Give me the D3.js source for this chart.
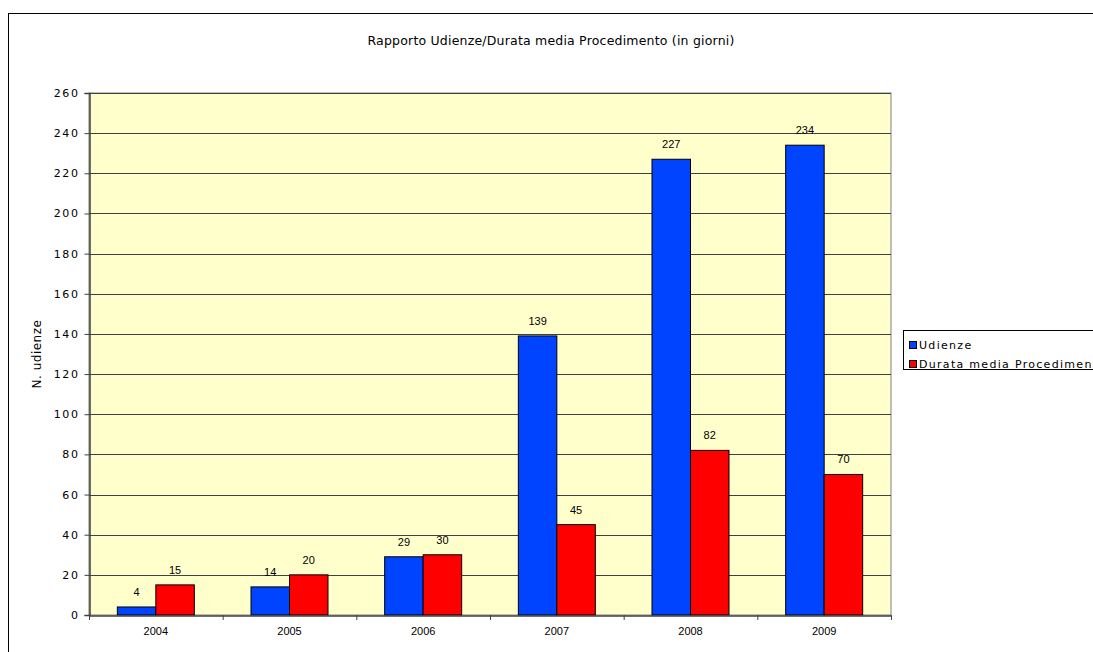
<!DOCTYPE html>
<html>
<head>
<meta charset="utf-8">
<script src="https://cdn.jsdelivr.net/npm/d3@7/dist/d3.min.js"></script>
<style>
  html, body { margin: 0; padding: 0; background: #fff; }
  svg { display: block; }
</style>
</head>
<body>
<svg id="chart" width="1093" height="652"></svg>
<script>
const years = ["2004", "2005", "2006", "2007", "2008", "2009"];
const udienze = [4, 14, 29, 139, 227, 234];
const durataMedia = [15, 20, 30, 45, 82, 70];
const seriesNames = ["Udienze", "Durata media Procedimento"];
const seriesColors = ["#0044ff", "#ff0000"];
const yTicks = [0, 20, 40, 60, 80, 100, 120, 140, 160, 180, 200, 220, 240, 260];
const chartTitle = "Rapporto Udienze/Durata media Procedimento (in giorni)";
const yTitle = "N. udienze";

const svg = d3.select("#chart");
const plot = { left: 89, top: 93, right: 891, bottom: 615 };
const uiFont = "'DejaVu Sans', 'Open Sans', sans-serif";
const valFont = "'Liberation Sans', Arial, sans-serif";

// outer chart frame
svg.append("rect")
  .attr("x", 8.5).attr("y", 13.5)
  .attr("width", 1100).attr("height", 700)
  .attr("fill", "#fff").attr("stroke", "#000").attr("stroke-width", 1);

const x = d3.scaleBand().domain(years).range([plot.left, plot.right]).paddingInner(0).paddingOuter(0);
const inner = d3.scaleBand().domain([0, 1]).range([0, x.bandwidth()]).paddingInner(0).paddingOuter(0.736);
const y = d3.scaleLinear().domain([0, 260]).range([plot.bottom, plot.top]);

// plot background
svg.append("rect")
  .attr("x", plot.left).attr("y", plot.top)
  .attr("width", plot.right - plot.left).attr("height", plot.bottom - plot.top)
  .attr("fill", "#ffffcc").attr("stroke", "#808080").attr("stroke-width", 1);

// horizontal gridlines
svg.append("g").selectAll("line")
  .data(yTicks.filter(d => d > 0))
  .join("line")
  .attr("x1", plot.left).attr("x2", plot.right)
  .attr("y1", d => Math.round(y(d)) + 0.5).attr("y2", d => Math.round(y(d)) + 0.5)
  .attr("stroke", "#404040").attr("stroke-width", 1);

// bars
const rows = years.map((yr, i) => ({ year: yr, values: [udienze[i], durataMedia[i]] }));
const groups = svg.append("g").selectAll("g")
  .data(rows).join("g")
  .attr("transform", d => `translate(${x(d.year)},0)`);

groups.selectAll("rect")
  .data(d => d.values.map((v, k) => ({ k, v })))
  .join("rect")
  .attr("x", d => inner(d.k))
  .attr("width", inner.bandwidth())
  .attr("y", d => y(d.v))
  .attr("height", d => y(0) - y(d.v))
  .attr("fill", d => seriesColors[d.k])
  .attr("stroke", "#000").attr("stroke-width", 1);

groups.selectAll("text")
  .data(d => d.values.map((v, k) => ({ k, v })))
  .join("text")
  .attr("x", d => inner(d.k) + inner.bandwidth() / 2)
  .attr("y", d => y(d.v) - 11)
  .attr("text-anchor", "middle")
  .attr("font-family", valFont).attr("font-size", 11)
  .attr("fill", "#000")
  .text(d => d.v);

// y axis
const yAxis = d3.axisLeft(y).tickValues(yTicks).tickSize(5).tickPadding(5);
const gy = svg.append("g").attr("transform", `translate(${plot.left + 0.5},0)`).call(yAxis);
gy.select(".domain").attr("stroke", "#404040").attr("stroke-width", 1.5);
gy.selectAll(".tick line").attr("stroke", "#404040");
gy.selectAll(".tick text")
  .attr("font-family", uiFont).attr("font-size", 11)
  .attr("letter-spacing", 1.6).attr("fill", "#000");

// x axis
const xAxis = d3.axisBottom(x).tickSize(0).tickPadding(12);
const gx = svg.append("g").attr("transform", `translate(0,${plot.bottom + 0.5})`).call(xAxis);
gx.select(".domain").attr("stroke", "#404040").attr("stroke-width", 1.5);
gx.selectAll(".tick text")
  .attr("font-family", valFont).attr("font-size", 11).attr("fill", "#000");
// category separators
svg.append("g").selectAll("line")
  .data(years.concat(["end"]))
  .join("line")
  .attr("x1", (d, i) => x(years[0]) + i * x.step() + 0.5)
  .attr("x2", (d, i) => x(years[0]) + i * x.step() + 0.5)
  .attr("y1", plot.bottom).attr("y2", plot.bottom + 5)
  .attr("stroke", "#404040");

// title
svg.append("text")
  .attr("x", 551).attr("y", 45)
  .attr("text-anchor", "middle")
  .attr("font-family", uiFont).attr("font-size", 12.5)
  .attr("letter-spacing", 0.2)
  .attr("fill", "#000")
  .text(chartTitle);

// y axis title
svg.append("text")
  .attr("transform", `translate(41,${(plot.top + plot.bottom) / 2}) rotate(-90)`)
  .attr("text-anchor", "middle")
  .attr("font-family", uiFont).attr("font-size", 12)
  .attr("letter-spacing", 0.5)
  .attr("fill", "#000")
  .text(yTitle);

// legend (box runs past the right edge of the frame)
const legend = svg.append("g").attr("transform", "translate(903,330)");
legend.append("rect")
  .attr("x", 0.5).attr("y", 0.5).attr("width", 250).attr("height", 39)
  .attr("fill", "#fff").attr("stroke", "#000");
seriesNames.forEach((name, i) => {
  const row = legend.append("g").attr("transform", `translate(6,${11 + i * 19})`);
  row.append("rect").attr("x", 0.5).attr("y", 0.5).attr("width", 7).attr("height", 7)
    .attr("fill", seriesColors[i]).attr("stroke", "#000");
  row.append("text").attr("x", 10).attr("y", 8)
    .attr("font-family", uiFont).attr("font-size", 11)
    .attr("letter-spacing", 1.3).attr("fill", "#000")
    .text(name);
});
</script>
</body>
</html>
